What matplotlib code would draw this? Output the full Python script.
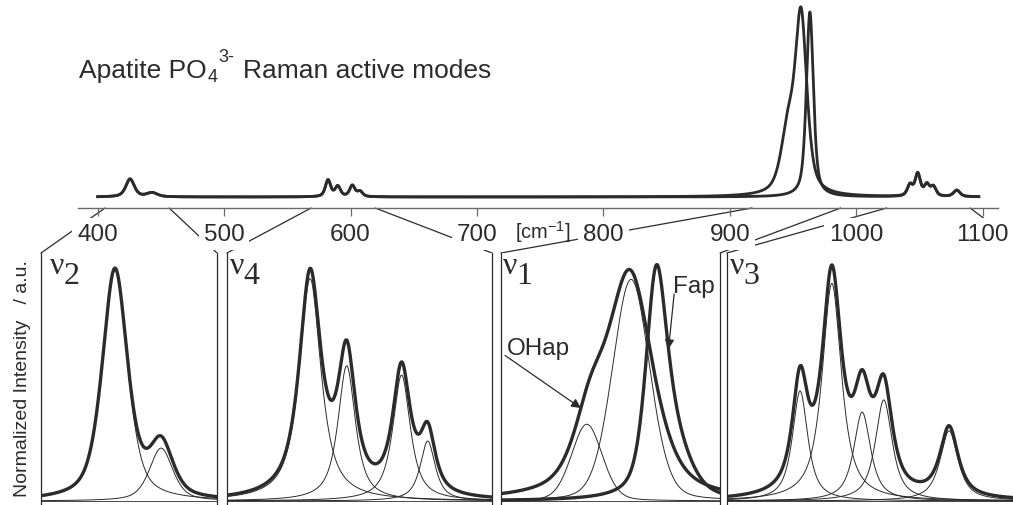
import numpy as np
import matplotlib
matplotlib.use("Agg")
import matplotlib.pyplot as plt
from matplotlib.patches import ConnectionPatch

plt.rcParams['font.family'] = ['Liberation Sans', 'DejaVu Sans']
plt.rcParams['mathtext.fontset'] = 'custom'
plt.rcParams['mathtext.rm'] = 'Liberation Sans'
plt.rcParams['mathtext.it'] = 'Liberation Sans:italic'

INK = '#2b2b2b'
AXIS = '#6a6a6a'

# ---------------- data: band parameters (centre cm-1, height, half width) ----------------
# full survey spectrum, bands common to both apatites
minor_centers = [425.6, 443.0, 582.2, 589.9, 601.4, 607.5, 1042.6, 1048.7, 1055.9, 1061.1, 1079.6]
minor_heights = [0.097, 0.022, 0.090, 0.055, 0.060, 0.028, 0.060, 0.120, 0.060, 0.050, 0.035]
minor_widths = [4.0, 5.0, 2.5, 2.5, 2.5, 2.5, 2.5, 2.5, 2.5, 2.5, 3.0]
# nu1 region of the survey
ohap_v1_centers = [946.0, 956.4]
ohap_v1_heights = [0.32, 0.95]
ohap_v1_widths = [6.5, 5.5]
fap_v1_centers = [963.4]
fap_v1_heights = [1.0]
fap_v1_widths = [3.3]
survey_eta = 0.6

# detail panels
v2_range = (405.8, 456.5)
v2_centers = [427.1, 440.4]
v2_heights = [0.985, 0.226]
v2_widths = [4.3, 4.0]
v2_eta = 0.55

v4_range = (568.8, 619.5)
v4_centers = [584.7, 591.7, 602.2, 607.2]
v4_heights = [0.95, 0.578, 0.538, 0.256]
v4_widths = [2.49, 2.0, 2.0, 1.72]
v4_eta = 0.85

v1_range = (917.6, 987.8)
# measured OHap profile
v1_ohap_centers = [946.1, 959.0]
v1_ohap_heights = [0.27, 0.95]
v1_ohap_widths = [6.4, 8.65]
v1_ohap_eta = 0.6
# fitted OHap components
v1_fit_centers = [945.1, 959.3]
v1_fit_heights = [0.328, 0.947]
v1_fit_widths = [5.8, 7.05]
v1_fit_eta = 0.2
# measured Fap profile
v1_fap_centers = [967.3, 972.4]
v1_fap_heights = [0.85, 0.25]
v1_fap_widths = [3.85, 6.4]
v1_fap_eta = 0.5

v3_range = (1024.2, 1090.1)
v3_centers = [1040.1, 1047.0, 1053.6, 1058.3, 1072.5]
v3_heights = [0.47, 0.93, 0.38, 0.432, 0.30]
v3_widths = [2.0, 2.5, 2.2, 2.2, 2.35]
v3_eta = 0.85

survey_ticks = [400, 500, 600, 700, 800, 900, 1000, 1100]


def band(x, c, h, w, eta):
    u = ((x - c) / w) ** 2
    return h * (eta / (1 + u) + (1 - eta) * np.exp(-np.log(2) * u))


def total(x, centers, heights, widths, eta):
    return sum(band(x, c, h, w, eta) for c, h, w in zip(centers, heights, widths))


W, H = 1013, 506
fig = plt.figure(figsize=(W / 100, H / 100), dpi=100)


def box(x0, y0, x1, y1):
    return [x0 / W, 1 - y1 / H, (x1 - x0) / W, (y1 - y0) / H]


# ---------------- survey spectrum ----------------
top = fig.add_axes(box(78, 5, 998, 209), zorder=3)
top.set_facecolor('none')
xs = np.linspace(400, 1097, 4000)
base = total(xs, minor_centers, minor_heights, minor_widths, survey_eta)
ohap = base + total(xs, ohap_v1_centers, ohap_v1_heights, ohap_v1_widths, survey_eta)
fap = base + total(xs, fap_v1_centers, fap_v1_heights, fap_v1_widths, survey_eta)
top.plot(xs, ohap, color=INK, lw=2.0, solid_joinstyle='round')
top.plot(xs, fap, color=INK, lw=2.0, solid_joinstyle='round')
top.set_xlim(384.4, 1112.2)
top.set_ylim(-0.0595, 1.043)
for s in ('top', 'left', 'right'):
    top.spines[s].set_visible(False)
top.spines['bottom'].set_color(AXIS)
top.spines['bottom'].set_linewidth(1.0)
top.set_yticks([])
top.set_xticks(survey_ticks)
top.set_xticklabels([str(t) for t in survey_ticks])
top.tick_params(axis='x', direction='out', length=5.4, width=0.9, color=AXIS,
                pad=5.5, labelsize=17.5, labelcolor=INK)
for lab in top.get_xticklabels():
    lab.set_bbox(dict(facecolor='white', edgecolor='none', pad=3.5))

# ---------------- detail panels ----------------
panels_px = [(41, 217), (227, 492), (501, 720), (727, 1030)]
ranges = [v2_range, v4_range, v1_range, v3_range]
names = ['2', '4', '1', '3']
name_dx = [9, 3, 2, 3]
axes = []
for (x0, x1), rng in zip(panels_px, ranges):
    ax = fig.add_axes(box(x0, 254, x1, 506), zorder=1)
    ax.set_xlim(*rng)
    ax.set_ylim(-4 / 234, 248 / 234)
    ax.set_xticks([])
    ax.set_yticks([])
    for s in ('top', 'bottom'):
        ax.spines[s].set_visible(False)
    for s in ('left', 'right'):
        ax.spines[s].set_color(INK)
        ax.spines[s].set_linewidth(0.9)
    ax.axhline(0, color=INK, lw=0.6)
    axes.append(ax)
    # zoom lines from the survey axis to the panel corners
    for xa in rng:
        frac = 0.0 if xa == rng[0] else 1.0
        con = ConnectionPatch(xyA=(xa, 0), coordsA=top.get_xaxis_transform(),
                              xyB=(frac, 1), coordsB=ax.transAxes,
                              color=INK, lw=0.9)
        con.set_zorder(-1)
        fig.add_artist(con)

THICK = 2.4
THIN = 0.7


def draw_components(ax, x, centers, heights, widths, eta):
    for c, h, w in zip(centers, heights, widths):
        ax.plot(x, band(x, c, h, w, eta), color=INK, lw=THIN)


def draw_fit(ax, rng, centers, heights, widths, eta):
    x = np.linspace(rng[0], rng[1], 1500)
    draw_components(ax, x, centers, heights, widths, eta)
    ax.plot(x, total(x, centers, heights, widths, eta), color=INK, lw=THICK)


draw_fit(axes[0], v2_range, v2_centers, v2_heights, v2_widths, v2_eta)
draw_fit(axes[1], v4_range, v4_centers, v4_heights, v4_widths, v4_eta)
draw_fit(axes[3], v3_range, v3_centers, v3_heights, v3_widths, v3_eta)

ax1 = axes[2]
xf = np.linspace(v1_range[0], v1_range[1], 1500)
draw_components(ax1, xf, v1_fit_centers, v1_fit_heights, v1_fit_widths, v1_fit_eta)
ax1.plot(xf, total(xf, v1_ohap_centers, v1_ohap_heights, v1_ohap_widths, v1_ohap_eta),
         color=INK, lw=THICK)
ax1.plot(xf, total(xf, v1_fap_centers, v1_fap_heights, v1_fap_widths, v1_fap_eta),
         color=INK, lw=THICK)

# labels for the two nu1 curves
arrow_kw = dict(arrowstyle='-|>', color=INK, lw=0.9, mutation_scale=14, shrinkA=0, shrinkB=0)
ax1.text(919.4, 0.628, 'OHap', fontsize=17.5, color=INK, va='baseline')
tip_x = 943.2
tip_y = total(np.array([tip_x]), v1_ohap_centers, v1_ohap_heights, v1_ohap_widths, v1_ohap_eta)[0]
ax1.annotate('', xy=(tip_x, tip_y), xytext=(918.9, 0.622), arrowprops=arrow_kw)
ax1.text(972.8, 0.893, 'Fap', fontsize=17.5, color=INK, va='baseline')
tip_x = 971.3
tip_y = total(np.array([tip_x]), v1_fap_centers, v1_fap_heights, v1_fap_widths, v1_fap_eta)[0]
ax1.annotate('', xy=(tip_x, tip_y), xytext=(973.1, 0.885), arrowprops=arrow_kw)

# ---------------- texts ----------------
fig.text(515 / W, 1 - 239 / H, '[cm$^{-1}$]', fontsize=14.5, color=INK, va='baseline')
fig.text(23 / W, 1 - 378.5 / H, 'Normalized Intensity   / a.u.', fontsize=14, color=INK,
         rotation=90, ha='center', va='center')

t1 = fig.text(79 / W, 1 - 78 / H, 'Apatite PO', fontsize=19, color=INK, va='baseline')
nu_texts = []
for (x0, _), dx in zip(panels_px, name_dx):
    nu_texts.append(fig.text((x0 + dx) / W, 1 - 274 / H, 'ν', fontsize=23, color=INK,
                             family=['Liberation Serif', 'DejaVu Serif'], va='baseline'))

fig.canvas.draw()
r = fig.canvas.get_renderer()
x_end = t1.get_window_extent(r).x1
t2 = fig.text((x_end + 0.5) / W, 1 - 82 / H, '4', fontsize=13, color=INK, va='baseline')
fig.canvas.draw()
x_end = t2.get_window_extent(r).x1
t3 = fig.text((x_end + 1) / W, 1 - 62 / H, '3-', fontsize=13, color=INK, va='baseline')
fig.canvas.draw()
x_end = t3.get_window_extent(r).x1
fig.text((x_end + 9) / W, 1 - 78 / H, 'Raman active modes', fontsize=19, color=INK,
         va='baseline')
for t, n in zip(nu_texts, names):
    xe = t.get_window_extent(r).x1
    fig.text((xe - 1) / W, 1 - 284 / H, n, fontsize=23, color=INK,
             family=['Liberation Serif', 'DejaVu Serif'], va='baseline')

fig.savefig('out.png', dpi=100)
